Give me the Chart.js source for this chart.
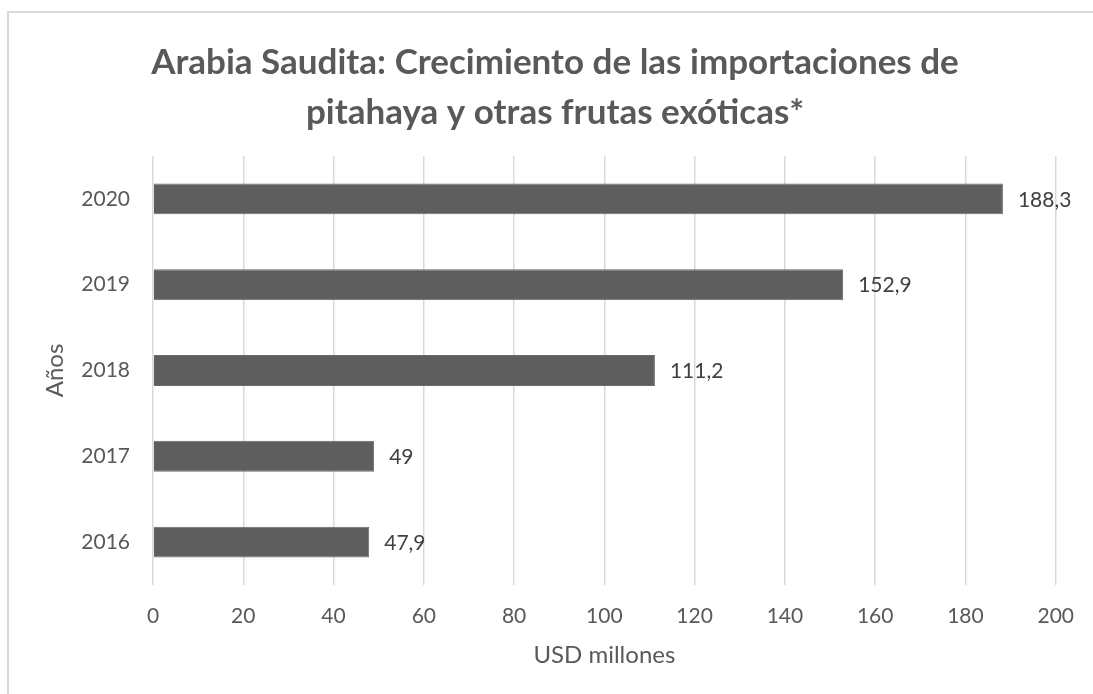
<!DOCTYPE html>
<html>
<head>
<meta charset="utf-8">
<script src="https://cdn.jsdelivr.net/npm/chart.js@4/dist/chart.umd.min.js"></script>
<style>
  html, body { margin: 0; padding: 0; background: #ffffff; overflow: hidden; }
  #wrap { position: absolute; left: 0; top: 0; width: 1093px; height: 694px; }
</style>
</head>
<body>
<div id="wrap"><canvas id="c" width="1093" height="694"></canvas></div>
<script>
const years = ['2020', '2019', '2018', '2017', '2016'];
const importValues = [188.3, 152.9, 111.2, 49, 47.9];
const xTicks = [0, 20, 40, 60, 80, 100, 120, 140, 160, 180, 200];
const titleLines = ['Arabia Saudita: Crecimiento de las importaciones de', 'pitahaya y otras frutas exóticas*'];
const xTitle = 'USD millones';
const yTitle = 'Años';

const FONT = 'Lato, "Open Sans", sans-serif';
const GREY = '#595959';

const frameAndTitle = {
  id: 'frameAndTitle',
  beforeDraw(chart) {
    const ctx = chart.ctx;
    ctx.save();
    ctx.fillStyle = '#ffffff';
    ctx.fillRect(0, 0, chart.width, chart.height);
    ctx.strokeStyle = '#d9d9d9';
    ctx.lineWidth = 2;
    ctx.beginPath();
    ctx.moveTo(8, chart.height + 2);
    ctx.lineTo(8, 12);
    ctx.lineTo(chart.width + 2, 12);
    ctx.stroke();
    ctx.restore();
  },
  afterDraw(chart) {
    const ctx = chart.ctx;
    ctx.save();
    ctx.font = 'bold 35px ' + FONT;
    ctx.fillStyle = GREY;
    ctx.textAlign = 'center';
    ctx.textBaseline = 'middle';
    titleLines.forEach((t, i) => ctx.fillText(t, 555, 63 + i * 50));
    ctx.restore();
  }
};

const valueLabels = {
  id: 'valueLabels',
  afterDatasetsDraw(chart) {
    const ctx = chart.ctx;
    const meta = chart.getDatasetMeta(0);
    ctx.save();
    ctx.font = '21px ' + FONT;
    ctx.fillStyle = '#404040';
    ctx.textAlign = 'left';
    ctx.textBaseline = 'middle';
    meta.data.forEach((bar, i) => {
      const v = chart.data.datasets[0].data[i];
      ctx.fillText(String(v).replace('.', ','), bar.x + 15, bar.y + 1);
    });
    ctx.restore();
  }
};

new Chart(document.getElementById('c'), {
  type: 'bar',
  data: {
    labels: years,
    datasets: [{
      data: importValues,
      backgroundColor: '#5e5e5e',
      borderColor: '#6a6a6a',
      borderWidth: 1,
      barPercentage: 0.72,
      categoryPercentage: 0.5
    }]
  },
  plugins: [frameAndTitle, valueLabels],
  options: {
    indexAxis: 'y',
    responsive: false,
    animation: false,
    devicePixelRatio: 1,
    layout: { padding: { left: 0, right: 35, top: 156, bottom: 0 } },
    plugins: {
      legend: { display: false },
      tooltip: { enabled: false },
      title: { display: false }
    },
    scales: {
      x: {
        min: 0,
        max: 200,
        afterBuildTicks(scale) { scale.ticks = xTicks.map(v => ({ value: v })); },
        afterFit(scale) { scale.height = 109; },
        grid: { color: '#d9d9d9', lineWidth: 1.5, drawTicks: false },
        border: { display: false },
        ticks: { color: GREY, font: { family: FONT, size: 21 }, padding: 19, maxRotation: 0 },
        title: { display: true, text: xTitle, color: GREY, font: { family: FONT, size: 24 }, padding: { top: 0, bottom: 24 } }
      },
      y: {
        afterFit(scale) { scale.width = 153; },
        grid: { display: false, drawTicks: false },
        border: { display: false },
        ticks: { color: GREY, font: { family: FONT, size: 21 }, padding: 23 },
        title: { display: true, text: yTitle, color: GREY, font: { family: FONT, size: 24 }, padding: { top: 41, bottom: 0 } }
      }
    }
  }
});
</script>
</body>
</html>
